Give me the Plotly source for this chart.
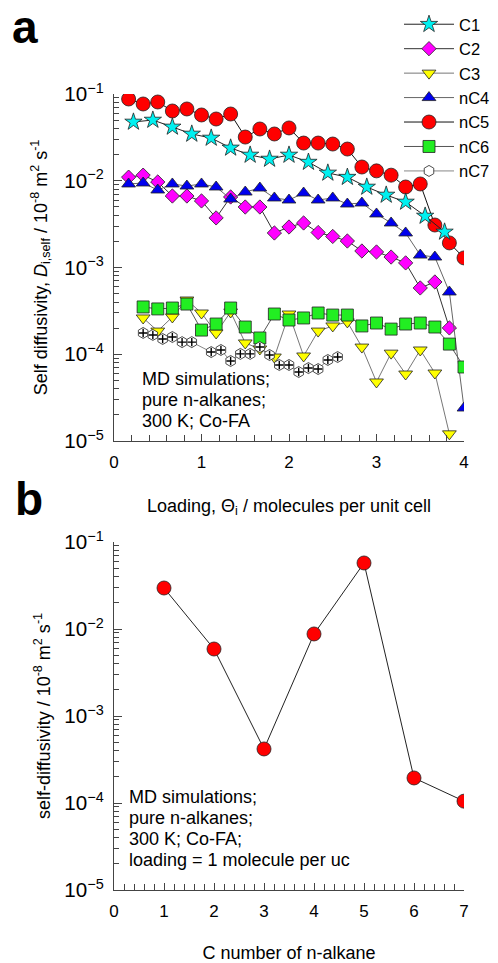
import plotly.graph_objects as go

# ---------------- data (panel a) ----------------
C1_x = [0.222, 0.444, 0.667, 0.889, 1.111, 1.333, 1.556, 1.778, 2.0, 2.222, 2.444, 2.667, 2.889, 3.111, 3.333, 3.556, 3.778]
C1_y = [0.0476, 0.0501, 0.0417, 0.0346, 0.0311, 0.0239, 0.0198, 0.0178, 0.0198, 0.0164, 0.0123, 0.0110, 0.00847, 0.00685, 0.00569, 0.00392, 0.00257]

C2_x = [0.167, 0.333, 0.5, 0.667, 0.833, 1.0, 1.167, 1.333, 1.5, 1.667, 1.833, 2.0, 2.167, 2.333, 2.5, 2.667, 2.833, 3.0, 3.167, 3.333, 3.5, 3.667, 3.833]
C2_y = [0.0110, 0.0116, 0.00968, 0.00667, 0.00667, 0.00585, 0.00373, 0.00650, 0.00498, 0.00498, 0.00250, 0.00293, 0.00326, 0.00253, 0.00228, 0.00202, 0.00155, 0.00151, 0.00132, 0.00113, 0.000581, 0.000681, 0.000201]

C3_x = [0.333, 0.5, 0.667, 0.833, 1.0, 1.167, 1.333, 1.5, 1.667, 1.833, 2.0, 2.167, 2.333, 2.5, 2.667, 2.833, 3.0, 3.167, 3.333, 3.5, 3.667, 3.833]
C3_y = [0.000262, 0.000185, 0.000269, 0.000422, 0.000299, 0.000176, 0.000307, 0.000135, 0.000115, 0.0000929, 0.000291, 0.0000955, 0.000185, 0.000212, 0.000236, 0.000121, 0.0000479, 0.000103, 0.0000592, 0.000112, 0.0000608, 0.0000121]

nC4_x = [0.167, 0.333, 0.5, 0.667, 0.833, 1.0, 1.167, 1.333, 1.5, 1.667, 1.833, 2.0, 2.167, 2.333, 2.5, 2.667, 2.833, 3.0, 3.167, 3.333, 3.5, 3.667, 3.833, 4.0]
nC4_y = [0.00918, 0.00942, 0.00782, 0.00918, 0.00869, 0.00918, 0.00847, 0.00616, 0.00741, 0.00824, 0.00633, 0.00600, 0.00722, 0.00600, 0.00633, 0.00539, 0.00554, 0.00414, 0.00326, 0.00250, 0.00139, 0.00132, 0.000522, 0.0000240]

nC5_x = [0.167, 0.333, 0.5, 0.667, 0.833, 1.0, 1.167, 1.333, 1.5, 1.667, 1.833, 2.0, 2.167, 2.333, 2.5, 2.667, 2.833, 3.0, 3.167, 3.333, 3.5, 3.667, 3.833, 4.0]
nC5_y = [0.0876, 0.0767, 0.0809, 0.0637, 0.0672, 0.0573, 0.0515, 0.0588, 0.0319, 0.0395, 0.0346, 0.0406, 0.0272, 0.0272, 0.0265, 0.0232, 0.0144, 0.0130, 0.0116, 0.00847, 0.00918, 0.00309, 0.00192, 0.00129]

nC6_x = [0.333, 0.5, 0.667, 0.833, 1.0, 1.167, 1.333, 1.5, 1.667, 1.833, 2.0, 2.167, 2.333, 2.5, 2.667, 2.833, 3.0, 3.167, 3.333, 3.5, 3.667, 3.833, 4.0]
nC6_y = [0.000351, 0.000333, 0.000341, 0.000379, 0.000190, 0.000223, 0.000341, 0.000206, 0.000154, 0.000291, 0.000248, 0.000262, 0.000299, 0.000283, 0.000283, 0.000212, 0.000229, 0.000195, 0.000223, 0.000229, 0.000206, 0.000131, 0.0000713]

nC7_x = [0.333, 0.444, 0.556, 0.667, 0.778, 0.889, 1.111, 1.222, 1.333, 1.444, 1.556, 1.667, 1.778, 1.889, 2.0, 2.111, 2.222, 2.333, 2.444, 2.556]
nC7_y = [0.000176, 0.000167, 0.000150, 0.000158, 0.000138, 0.000138, 0.000106, 0.000112, 0.0000836, 0.000101, 0.000101, 0.000121, 0.0000980, 0.0000752, 0.0000752, 0.0000624, 0.0000693, 0.0000675, 0.0000859, 0.0000929]

# ---------------- data (panel b) ----------------
cnum = [1, 2, 3, 4, 5, 6, 7]
D_self_1uc = [0.0296, 0.00589, 0.000418, 0.00877, 0.0574, 0.000194, 0.000105]

x_ticks_a = [0, 1, 2, 3, 4]
x_ticks_b = [0, 1, 2, 3, 4, 5, 6, 7]

FONT = "Arial, Liberation Sans, sans-serif"
W, H = 498, 963
ML, MR = 114, 34


def px_x(px):
    return (px - ML) / (W - ML - MR)


def px_y(py):
    return (H - py) / H


fig = go.Figure()

series = [
    # name, x, y, symbol, size, fill, line colour, legend rank
    ("nC5", nC5_x, nC5_y, "circle", 14, "#ff0000", "#111111", 5),
    ("C2", C2_x, C2_y, "diamond", 11, "#ff00ff", "#333333", 2),
    ("nC4", nC4_x, nC4_y, "triangle-up", 12, "#0000ee", "#666666", 4),
    ("C1", C1_x, C1_y, "star", 13, "#00f0f0", "#222222", 1),
    ("C3", C3_x, C3_y, "triangle-down", 12, "#ffff00", "#777777", 3),
    ("nC6", nC6_x, nC6_y, "square", 12, "#22ee22", "#555555", 6),
    ("nC7", nC7_x, nC7_y, "hexagon", 11, "#ffffff", "#888888", 7),
]

for name, xs, ys, sym, sz, fill, lc, rank in series:
    fig.add_trace(go.Scatter(
        x=xs, y=ys, name=name, mode="lines+markers",
        line=dict(color=lc, width=1),
        marker=dict(symbol=sym, size=sz, color=fill, line=dict(color="#222222", width=0.8)),
        legendrank=rank, xaxis="x", yaxis="y",
    ))
    if name == "nC7":
        fig.add_trace(go.Scatter(
            x=xs, y=ys, mode="markers", showlegend=False, hoverinfo="skip",
            marker=dict(symbol="cross-thin", size=6, line=dict(color="#000000", width=1.4)),
            xaxis="x", yaxis="y",
        ))

fig.add_trace(go.Scatter(
    x=cnum, y=D_self_1uc, mode="lines+markers", showlegend=False,
    line=dict(color="#222222", width=1),
    marker=dict(symbol="circle", size=14, color="#ff0000", line=dict(color="#222222", width=0.8)),
    xaxis="x2", yaxis="y2",
))

axis_common = dict(
    showline=True, linecolor="#444444", linewidth=1, mirror=False, automargin=False,
    ticks="inside", tickcolor="#444444", showgrid=False, zeroline=False,
    tickfont=dict(family=FONT, size=17, color="#000000"),
)

yaxis_common = dict(
    axis_common, type="log", range=[-5, -1], dtick=1, ticklen=8,
    exponentformat="power", showexponent="all", ticklabelstandoff=6,
    tickfont=dict(family=FONT, size=16.5, color="#000000"),
    minor=dict(ticks="inside", ticklen=5, dtick="D1", tickcolor="#444444", showgrid=False),
)

xaxis_common = dict(
    axis_common, ticklen=7, ticklabelstandoff=6,
    minor=dict(ticks="inside", ticklen=6, dtick=0.2, tickcolor="#444444", showgrid=False),
)

fig.update_layout(
    width=W, height=H,
    margin=dict(l=ML, r=MR, t=0, b=0, autoexpand=False),
    paper_bgcolor="white", plot_bgcolor="white",
    font=dict(family=FONT, size=18, color="#000000"),
    showlegend=True,
    legend=dict(
        x=px_x(399), y=px_y(7), xanchor="left", yanchor="top",
        bgcolor="rgba(0,0,0,0)", font=dict(family=FONT, size=16.5),
        itemwidth=50, tracegroupgap=0,
    ),
    xaxis=dict(
        xaxis_common, domain=[0, 1], anchor="y", range=[0, 4], tickvals=x_ticks_a,
        title=dict(text="Loading, Θ<sub>i</sub> / molecules per unit cell",
                   font=dict(family=FONT, size=18), standoff=27),
    ),
    yaxis=dict(
        yaxis_common, domain=[px_y(441), px_y(94)], anchor="x",
        title=dict(text="Self diffusivity, <i>D</i><sub>i,self</sub> / 10<sup>-8</sup> m<sup>2</sup> s<sup>-1</sup>",
                   font=dict(family=FONT, size=18), standoff=12),
    ),
    xaxis2=dict(
        xaxis_common, domain=[0, 1], anchor="y2", range=[0, 7], tickvals=x_ticks_b,
        title=dict(text="C number of n-alkane", font=dict(family=FONT, size=18), standoff=27),
    ),
    yaxis2=dict(
        yaxis_common, domain=[px_y(890), px_y(542)], anchor="x2",
        title=dict(text="self-diffusivity / 10<sup>-8</sup> m<sup>2</sup> s<sup>-1</sup>",
                   font=dict(family=FONT, size=18), standoff=9),
    ),
)

annotations = [
    dict(text="<b>a</b>", x=px_x(10), y=px_y(27), xanchor="left", yanchor="middle", font=dict(size=46)),
    dict(text="<b>b</b>", x=px_x(13), y=px_y(499), xanchor="left", yanchor="middle", font=dict(size=46)),
]
notes_a = ["MD simulations;", "pure n-alkanes;", "300 K; Co-FA"]
ys_a = [379, 400, 421]
for t, yy in zip(notes_a, ys_a):
    annotations.append(dict(text=t, x=px_x(140), y=px_y(yy), xanchor="left", yanchor="middle", font=dict(size=18)))
notes_b = ["MD simulations;", "pure n-alkanes;", "300 K; Co-FA;", "loading = 1 molecule per uc"]
ys_b = [797, 818, 839, 860]
for t, yy in zip(notes_b, ys_b):
    annotations.append(dict(text=t, x=px_x(127), y=px_y(yy), xanchor="left", yanchor="middle", font=dict(size=18)))

for a in annotations:
    a.update(xref="paper", yref="paper", showarrow=False)
    a["font"].update(family=FONT, color="#000000")
fig.update_layout(annotations=annotations)

fig.write_html(
    "out.html",
    config={"displayModeBar": False},
    post_script="document.body.style.margin='0px';document.body.style.padding='0px';"
                "document.documentElement.style.overflow='hidden';",
)
